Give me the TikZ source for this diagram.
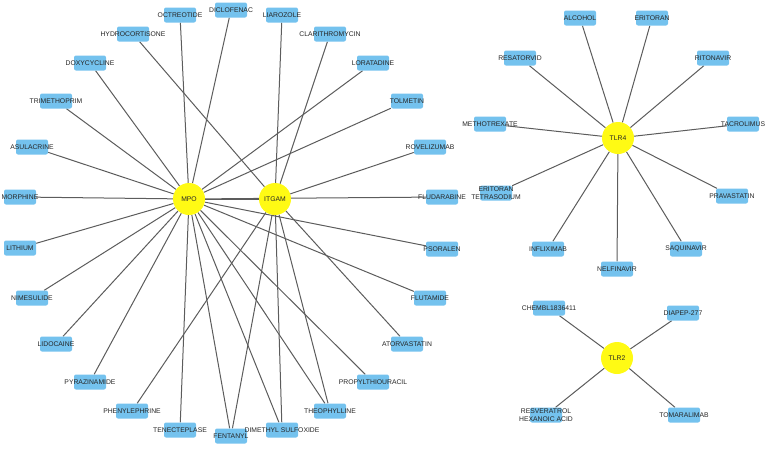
\documentclass[tikz,border=0pt]{standalone}
\usepackage{fontspec}
\setmainfont{Liberation Sans}
\usetikzlibrary{backgrounds}

\definecolor{drugblue}{RGB}{116,194,238}
\definecolor{geneyellow}{RGB}{255,250,20}
\definecolor{linkgray}{RGB}{92,92,92}
\newcommand{\dname}[1]{\makebox[0pt]{#1}}

\tikzset{
  drug/.style={fill=drugblue, rounded corners=2pt, minimum width=32pt,
    minimum height=15pt, inner sep=0pt, text=black!85},
  gene/.style={circle, fill=geneyellow, minimum size=32pt, inner sep=0pt,
    text=black!85},
  link/.style={draw=linkgray, line width=1pt},
}

\begin{document}
\begin{tikzpicture}[x=1pt, y=-1pt, font=\fontsize{6.8}{7.6}\selectfont]
          \useasboundingbox (0, 0) rectangle (767, 448);%
          % genes
          \node [gene] (mpo) at (189, 199) {MPO};%
          \node [gene] (itgam) at (275, 199) {ITGAM};%
          \node [gene] (tlr4) at (618, 138) {TLR4};%
          \node [gene] (tlr2) at (617, 358) {TLR2};%
          % drugs round MPO and ITGAM
          \node [drug] (octreotide) at (180, 15) {\dname{OCTREOTIDE}};%
          \node [drug] (diclofenac) at (231, 10) {\dname{DICLOFENAC}};%
          \node [drug] (hydrocortisone) at (133, 34) {\dname{HYDROCORTISONE}};%
          \node [drug] (liarozole) at (282, 15) {\dname{LIAROZOLE}};%
          \node [drug] (clarithromycin) at (330, 34) {\dname{CLARITHROMYCIN}};%
          \node [drug] (loratadine) at (373, 63) {\dname{LORATADINE}};%
          \node [drug] (doxycycline) at (90, 63) {\dname{DOXYCYCLINE}};%
          \node [drug] (trimethoprim) at (56, 101) {\dname{TRIMETHOPRIM}};%
          \node [drug] (asulacrine) at (32, 147) {\dname{ASULACRINE}};%
          \node [drug] (morphine) at (20, 197) {\dname{MORPHINE}};%
          \node [drug] (tolmetin) at (407, 101) {\dname{TOLMETIN}};%
          \node [drug] (rovelizumab) at (430, 147) {\dname{ROVELIZUMAB}};%
          \node [drug] (fludarabine) at (442, 197) {\dname{FLUDARABINE}};%
          \node [drug] (lithium) at (20, 248) {\dname{LITHIUM}};%
          \node [drug] (psoralen) at (442, 249) {\dname{PSORALEN}};%
          \node [drug] (nimesulide) at (32, 298) {\dname{NIMESULIDE}};%
          \node [drug] (flutamide) at (430, 298) {\dname{FLUTAMIDE}};%
          \node [drug] (lidocaine) at (56, 344) {\dname{LIDOCAINE}};%
          \node [drug] (atorvastatin) at (407, 344) {\dname{ATORVASTATIN}};%
          \node [drug] (pyrazinamide) at (90, 382) {\dname{PYRAZINAMIDE}};%
          \node [drug] (propylthiouracil) at (373, 382) {\dname{PROPYLTHIOURACIL}};%
          \node [drug] (phenylephrine) at (132, 411) {\dname{PHENYLEPHRINE}};%
          \node [drug] (theophylline) at (330, 411) {\dname{THEOPHYLLINE}};%
          \node [drug] (tenecteplase) at (180, 430) {\dname{TENECTEPLASE}};%
          \node [drug] (fentanyl) at (231, 436) {\dname{FENTANYL}};%
          \node [drug] (dmso) at (282, 430) {\dname{DIMETHYL SULFOXIDE}};%
          % drugs round TLR4
          \node [drug] (alcohol) at (580, 18) {\dname{ALCOHOL}};%
          \node [drug] (eritoran) at (652, 18) {\dname{ERITORAN}};%
          \node [drug] (resatorvid) at (520, 58) {\dname{RESATORVID}};%
          \node [drug] (ritonavir) at (713, 58) {\dname{RITONAVIR}};%
          \node [drug] (methotrexate) at (490, 124) {\dname{METHOTREXATE}};%
          \node [drug] (tacrolimus) at (743, 124) {\dname{TACROLIMUS}};%
          \node [drug] (eritorants) at (496, 193) {%
            \dname{\shortstack{ERITORAN\\TETRASODIUM}}};%
          \node [drug] (pravastatin) at (732, 196) {\dname{PRAVASTATIN}};%
          \node [drug] (infliximab) at (548, 249) {\dname{INFLIXIMAB}};%
          \node [drug] (nelfinavir) at (617, 269) {\dname{NELFINAVIR}};%
          \node [drug] (saquinavir) at (686, 249) {\dname{SAQUINAVIR}};%
          % drugs round TLR2
          \node [drug] (chembl) at (549, 308) {\dname{CHEMBL1836411}};%
          \node [drug] (diapep) at (683, 313) {\dname{DIAPEP-277}};%
          \node [drug] (resveratrol) at (546, 415) {%
            \dname{\shortstack{RESVERATROL\\HEXANOIC ACID}}};%
          \node [drug] (tomaralimab) at (684, 415) {\dname{TOMARALIMAB}};%
          % links, behind the nodes
          \begin{scope}[on background layer]
            \draw [link] (mpo) -- (itgam);%
            \draw [link] (mpo) -- (octreotide);%
            \draw [link] (mpo) -- (diclofenac);%
            \draw [link] (mpo) -- (loratadine);%
            \draw [link] (mpo) -- (doxycycline);%
            \draw [link] (mpo) -- (trimethoprim);%
            \draw [link] (mpo) -- (asulacrine);%
            \draw [link] (mpo) -- (morphine);%
            \draw [link] (mpo) -- (tolmetin);%
            \draw [link] (mpo) -- (fludarabine);%
            \draw [link] (mpo) -- (lithium);%
            \draw [link] (mpo) -- (psoralen);%
            \draw [link] (mpo) -- (nimesulide);%
            \draw [link] (mpo) -- (flutamide);%
            \draw [link] (mpo) -- (lidocaine);%
            \draw [link] (mpo) -- (pyrazinamide);%
            \draw [link] (mpo) -- (propylthiouracil);%
            \draw [link] (mpo) -- (theophylline);%
            \draw [link] (mpo) -- (tenecteplase);%
            \draw [link] (mpo) -- (fentanyl);%
            \draw [link] (mpo) -- (dmso);%
            \draw [link] (itgam) -- (hydrocortisone);%
            \draw [link] (itgam) -- (liarozole);%
            \draw [link] (itgam) -- (clarithromycin);%
            \draw [link] (itgam) -- (rovelizumab);%
            \draw [link] (itgam) -- (atorvastatin);%
            \draw [link] (itgam) -- (phenylephrine);%
            \draw [link] (itgam) -- (theophylline);%
            \draw [link] (itgam) -- (fentanyl);%
            \draw [link] (itgam) -- (dmso);%
            \draw [link] (tlr4) -- (alcohol);%
            \draw [link] (tlr4) -- (eritoran);%
            \draw [link] (tlr4) -- (resatorvid);%
            \draw [link] (tlr4) -- (ritonavir);%
            \draw [link] (tlr4) -- (methotrexate);%
            \draw [link] (tlr4) -- (tacrolimus);%
            \draw [link] (tlr4) -- (eritorants);%
            \draw [link] (tlr4) -- (pravastatin);%
            \draw [link] (tlr4) -- (infliximab);%
            \draw [link] (tlr4) -- (nelfinavir);%
            \draw [link] (tlr4) -- (saquinavir);%
            \draw [link] (tlr2) -- (chembl);%
            \draw [link] (tlr2) -- (diapep);%
            \draw [link] (tlr2) -- (resveratrol);%
            \draw [link] (tlr2) -- (tomaralimab);%
          \end{scope}
        \end{tikzpicture}
\end{document}
